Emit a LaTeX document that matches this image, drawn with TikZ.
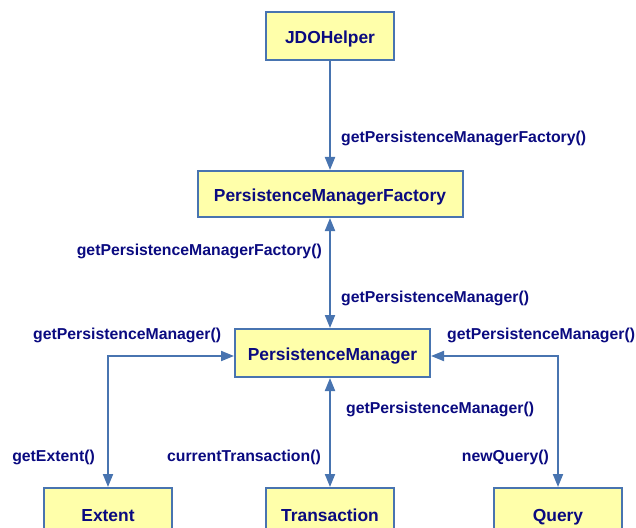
\documentclass[tikz,border=0pt]{standalone}
\usepackage{fontspec}
\setmainfont{Liberation Sans}
\usetikzlibrary{arrows.meta}
\definecolor{boxfill}{RGB}{255,255,170}
\definecolor{edgeblue}{RGB}{72,116,176}
\definecolor{navytext}{RGB}{10,10,128}
\tikzset{
  classbox/.style={draw=edgeblue, line width=2bp, fill=boxfill, inner sep=0pt,
    text=navytext, text height=15bp, text depth=0bp,
    font=\fontsize{17.4bp}{20bp}\selectfont\bfseries},
  calllabel/.style={inner sep=0pt, text=navytext,
    font=\fontsize{15.8bp}{18bp}\selectfont\bfseries},
  link/.style={draw=edgeblue, line width=2bp,
    -{Triangle[length=13bp,width=10bp]}},
  duallink/.style={draw=edgeblue, line width=2bp,
    {Triangle[length=13bp,width=10bp]}-{Triangle[length=13bp,width=10bp]}},
}
\begin{document}
\begin{tikzpicture}[x=1bp,y=-1bp]
\useasboundingbox (0,0) rectangle (636,528);

% classes
\node[classbox, minimum width=128bp, minimum height=48bp] (jdo) at (330,36) {JDOHelper};
\node[classbox, minimum width=265bp, minimum height=46bp] (pmf) at (330,194) {PersistenceManagerFactory};
\node[classbox, minimum width=195bp, minimum height=48bp] (pm) at (332.5,353) {PersistenceManager};
\node[classbox, minimum width=128bp, minimum height=52bp] (ext) at (108,514) {Extent};
\node[classbox, minimum width=128bp, minimum height=52bp] (tx) at (330,514) {Transaction};
\node[classbox, minimum width=128bp, minimum height=52bp] (qry) at (558,514) {Query};

% method calls
\node[calllabel, anchor=west] (l1) at (341,138) {getPersistenceManagerFactory()};
\node[calllabel, anchor=east] (l2) at (322,251) {getPersistenceManagerFactory()};
\node[calllabel, anchor=west] (l3) at (341,298) {getPersistenceManager()};
\node[calllabel, anchor=west] (l4) at (33,335) {getPersistenceManager()};
\node[calllabel, anchor=west] (l5) at (447,335) {getPersistenceManager()};
\node[calllabel, anchor=west] (l6) at (346,409) {getPersistenceManager()};
\node[calllabel, anchor=east] (l7) at (95,457) {getExtent()};
\node[calllabel, anchor=east] (l8) at (321,457) {currentTransaction()};
\node[calllabel, anchor=east] (l9) at (549,457) {newQuery()};

% connectors
\draw[link] (jdo.south) -- (pmf.north);
\draw[duallink] (pmf.south) -- (pmf.south |- pm.north);
\draw[duallink] ([yshift=-3bp]pm.west) -| (ext.north);
\draw[duallink] ([yshift=-3bp]pm.east) -| (qry.north);
\draw[duallink] (tx.north |- pm.south) -- (tx.north);
\end{tikzpicture}
\end{document}
